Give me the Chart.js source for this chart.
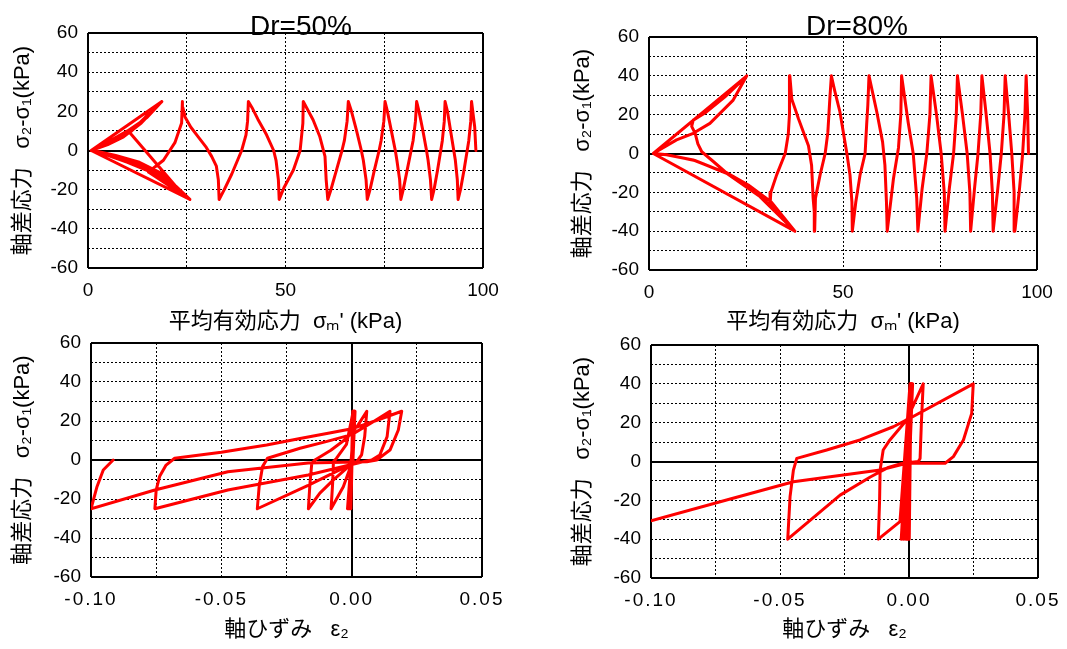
<!DOCTYPE html>
<html>
<head>
<meta charset="utf-8">
<script src="https://cdn.jsdelivr.net/npm/chart.js@4.4.0/dist/chart.umd.min.js"></script>
<style>
body { margin: 0; background: #fff; width: 1067px; height: 649px; overflow: hidden; position: relative; }
canvas { position: absolute; }
</style>
</head>
<body>
<canvas id="c50" width="520" height="335" style="left:0px;top:0px"></canvas>
<canvas id="c80" width="520" height="335" style="left:560px;top:0px"></canvas>
<canvas id="e50" width="540" height="329" style="left:0px;top:320px"></canvas>
<canvas id="e80" width="520" height="329" style="left:560px;top:320px"></canvas>
<script>
// 有効応力経路 Dr=50% [平均有効応力 kPa, 軸差応力 kPa]
const path50 = [
    [98.2, 0], [97.9, 12], [97.1, 25],
    [96.9, 15], [96.4, 5], [96.0, 0], [95.2, -10], [94.3, -20], [93.7, -25],
    [93.5, -15], [93.0, -5], [92.6, 0], [91.8, 10], [91.0, 20], [90.4, 25],
    [90.2, 15], [89.7, 5], [89.3, 0], [88.5, -10], [87.6, -20], [87.0, -25],
    [86.7, -15], [86.1, -5], [85.7, 0], [84.8, 10], [83.8, 20], [83.2, 25],
    [82.9, 15], [82.3, 5], [81.8, 0], [80.8, -10], [79.8, -20], [79.2, -25],
    [78.9, -15], [78.2, -5], [77.8, 0], [76.8, 10], [75.8, 20], [75.2, 25],
    [74.9, 15], [74.2, 5], [73.7, 0], [72.5, -10], [71.4, -20], [70.7, -25],
    [70.4, -15], [69.7, -5], [69.2, 0], [68.0, 10], [66.7, 20], [65.9, 25],
    [65.6, 15], [64.9, 5], [64.3, 0], [62.9, -10], [61.5, -20], [60.7, -25],
    [60.3, -15], [60.0, -3], [58.7, 7], [57.0, 15.6], [54.5, 25],
    [54.4, 14], [53.7, 0], [52.0, -10], [49.6, -19], [48.4, -25],
    [48.2, -15], [47.6, -5], [47.0, 0], [45.2, 8], [43.0, 16], [41.5, 22], [40.6, 25],
    [40.4, 15], [40.0, 8], [38.9, 0], [36.4, -12], [34.5, -20], [33.2, -25],
    [33.0, -15], [32.5, -8], [31.3, -3], [29.8, 2], [27.9, 7], [26.0, 12], [24.6, 17], [24.0, 22], [23.9, 25],
    [23.7, 14], [22.0, 4], [19.1, -5], [15.3, -11], [25.8, -25],
    [20.5, -15.5], [15.0, -9], [10.0, -5], [5.0, -2], [0.8, 0],
    [18.7, 25],
    [14.5, 17], [10.6, 9.1], [24.5, -23.6], [25.8, -25],
    [19.0, -12], [13.0, -6], [7.0, -2.5], [2.5, -0.5], [0.8, 0],
    [18.7, 25],
    [13.5, 14], [9.0, 7], [5.0, 3], [2.0, 0.8], [0.8, 0],
    [25.8, -25],
    [21.0, -17], [16.0, -11], [10.0, -6], [5.0, -2.5], [0.8, 0],
    [5.0, 4], [10.0, 9.5], [15.0, 17], [18.7, 25],
    [0.8, 0],
    [25.8, -25],
    [20.0, -14.5], [14.0, -8], [8.0, -4], [3.0, -1], [0.8, 0],
    [18.7, 25],
    [14.0, 15.5], [10.0, 10], [6.0, 5.5], [2.5, 1.8], [0.8, 0]
]

// 有効応力経路 Dr=80%
const path80 = [
    [97.8, 0], [97.6, 20], [97.2, 40],
    [96.9, 20], [96.3, 0], [95.5, -18], [94.3, -40],
    [94.1, -20], [93.5, 0], [92.7, 20], [91.8, 40],
    [91.5, 20], [90.8, 0], [89.9, -18], [88.7, -40],
    [88.5, -20], [87.9, 0], [86.9, 20], [85.8, 40],
    [85.5, 20], [84.8, 0], [83.9, -18], [82.9, -40],
    [82.7, -20], [82.0, 0], [80.8, 20], [79.5, 40],
    [79.2, 20], [78.5, 0], [77.4, -18], [76.3, -40],
    [76.1, -20], [75.3, 0], [74.1, 20], [72.7, 40],
    [72.4, 20], [71.6, 0], [70.4, -18], [69.3, -40],
    [69.0, -23], [68.1, 0], [66.8, 16], [65.1, 40],
    [64.9, 20], [64.3, 3], [63.0, -13], [61.4, -40],
    [61.2, -25], [60.8, -6], [60.2, 6], [58.7, 21.5], [56.7, 40],
    [56.4, 25], [56.1, 15], [55.7, 0], [54.4, -11], [53.3, -25], [52.4, -40],
    [52.3, -25], [51.8, -11], [51.0, 0], [49.2, 21.5], [47.9, 32], [47.0, 40],
    [46.6, 28], [46.1, 11], [45.4, 0], [44.1, -11], [42.9, -23], [42.7, -40],
    [42.6, -30], [42.3, -23], [41.9, -6], [41.1, 4], [38.5, 18], [36.8, 28], [36.3, 40],
    [36.2, 20], [35.9, 10], [35.1, 0], [32.9, -11], [31.4, -20], [31.2, -26.5], [37.6, -40],
    [28.6, -22.2], [20.0, -10.2], [11.4, -3.3], [4.5, -0.6], [1.1, 0],
    [25.2, 40],
    [19.5, 29], [14.5, 21], [11.4, 17.2], [11.0, 14], [11.9, 10.4], [12.6, 5], [13.6, 0.9],
    [16.5, -4], [19.6, -9.4], [25.6, -16.2], [31.5, -25], [37.6, -40],
    [29.0, -22.5], [20.5, -10.5], [11.8, -3.6], [4.8, -0.7], [1.1, 0],
    [7.1, 7], [11.4, 10.4], [15.7, 15.5], [21.7, 27.5], [25.2, 40],
    [1.1, 0],
    [37.6, -40]
]

// 応力ひずみ Dr=50% [軸ひずみ, 軸差応力 kPa]
const strain50 = [
    [0.0, 0], [0.0004, 25], [-0.0003, -25], [0.0006, 25], [-0.0005, -25], [0.0008, 25], [-0.0008, -25],
    [0.0010, 25], [-0.0010, -25], [0.0012, 25], [-0.0013, -25], [0.0012, 25], [-0.0016, -25], [0.0013, 25],
    [0.0005, 0], [-0.0032, -13.7], [-0.0079, -25],
    [-0.0073, -12], [-0.0070, -0.9], [-0.0058, 0.9], [-0.002, 8], [0.0006, 25],
    [0.0, -2], [-0.0071, -10.3], [-0.0122, -17], [-0.0166, -25],
    [-0.0160, -12], [-0.0153, -1.7], [-0.0141, 0], [-0.0080, 5], [-0.002, 11], [0.002, 17], [0.0058, 25],
    [0.005, 12], [0.0038, 2.6], [0.0019, -1], [-0.006, -6], [-0.0167, -13], [-0.0362, -25],
    [-0.0355, -13.7], [-0.0342, -3.4], [-0.0323, 0.9], [-0.0198, 6], [-0.0098, 9.4], [0.0, 13], [0.0075, 19], [0.0147, 25],
    [0.0136, 12], [0.0108, 2.6], [0.0077, 0], [0.004, -1], [-0.0167, -7.7], [-0.0475, -15.4], [-0.0755, -25],
    [-0.0750, -15.4], [-0.0737, -8.5], [-0.0712, -2.6], [-0.0679, 0.9], [-0.050, 4], [-0.0326, 7.7],
    [-0.0198, 11], [-0.008, 14], [0.0006, 16.2], [0.010, 20.5], [0.0192, 25],
    [0.0179, 15.4], [0.0147, 5.1], [0.0096, 0], [0.0058, -0.9], [-0.0167, -1.5], [-0.0475, -6], [-0.0755, -15.4], [-0.1, -25],
    [-0.0977, -13.7], [-0.0953, -5.1], [-0.0915, 0]
]

// 応力ひずみ Dr=80%
const strain80 = [
    [0.0, 0], [0.0006, 40], [0.0001, -40], [0.0008, 40], [-0.0002, -40], [0.0010, 40], [-0.0006, -40],
    [0.0012, 40], [-0.0010, -40], [0.0014, 40], [-0.0015, -40], [0.0012, 40], [-0.0022, -40], [0.0008, 40],
    [-0.0030, -40], [0.0004, 40],
    [-0.0035, -31], [-0.0119, -40],
    [-0.0114, -20], [-0.0112, -4.4], [-0.0100, 5.9], [-0.0074, 11.1], [-0.0009, 21.4], [0.0055, 40],
    [0.0048, 20], [0.0043, 1.6], [0.0036, 0], [-0.0028, -1], [-0.008, -3], [-0.015, -8], [-0.0267, -17.3], [-0.047, -40],
    [-0.0461, -18.1], [-0.0448, -4.4], [-0.0435, 1.6], [-0.0319, 5.9], [-0.019, 11.1], [-0.0061, 17.9], [-0.0009, 21.4], [0.0249, 40],
    [0.0243, 24.8], [0.0211, 11.1], [0.0172, 2.5], [0.014, -0.9], [-0.0009, -0.9], [-0.0112, -4.4],
    [-0.0448, -10.4], [-0.0707, -19.8], [-0.1, -30.5]
]

const FONT = "'Liberation Sans', Arial, 'Noto Sans CJK JP', sans-serif"
const yTitle = '軸差応力   σ₂-σ₁(kPa)'
const pTitle = "平均有効応力  σₘ' (kPa)"
const eTitle = '軸ひずみ   ε₂'

const panelTitle = {
    id: 'panelTitle',
    afterDraw(chart, args, opts) {
        if (!opts.text) return
        const ctx = chart.ctx
        ctx.save()
        ctx.font = '28px ' + FONT
        ctx.fillStyle = '#000'
        ctx.textAlign = 'center'
        ctx.textBaseline = 'alphabetic'
        ctx.fillText(opts.text, opts.x, opts.y)
        ctx.restore()
    }
}
Chart.register(panelTitle)

// 枠と0の線は実線、その他の目盛線は点線
function isFrame(c) {
    return c.tick && (Math.abs(c.tick.value) < 1e-12 || c.index === 0 || c.index === c.scale.ticks.length - 1)
}

function yLabel(v) {
    return v % 20 === 0 ? String(v) : ''
}

function pLabel(v) {
    return v % 50 === 0 ? String(v) : ''
}

function eLabel(v) {
    const r = Math.round(v / 0.05)
    if (Math.abs(r * 0.05 - v) > 1e-9) return ''
    return Math.abs(v) < 1e-9 ? '0.00' : v.toFixed(2)
}

function panel(id, pts, o) {
    return new Chart(document.getElementById(id), {
        type: 'scatter',
        data: {
            datasets: [{
                data: pts.map(p => ({ x: p[0], y: p[1] })),
                showLine: true,
                borderColor: '#ff0000',
                borderWidth: 3,
                pointRadius: 0,
                tension: 0,
                borderJoinStyle: 'round',
                borderCapStyle: 'round'
            }]
        },
        options: {
            responsive: false,
            animation: false,
            events: [],
            layout: { padding: o.pad },
            plugins: {
                legend: { display: false },
                tooltip: { enabled: false },
                panelTitle: o.title || {}
            },
            scales: {
                x: {
                    type: 'linear',
                    min: o.xMin,
                    max: o.xMax,
                    afterFit: s => {
                        s.height = o.xH
                        if (o.spacing && !s._spaced) {
                            const draw = s.drawLabels
                            s.drawLabels = function (area) {
                                this.ctx.save()
                                this.ctx.letterSpacing = o.spacing
                                draw.call(this, area)
                                this.ctx.restore()
                            }
                            s._spaced = true
                        }
                    },
                    ticks: {
                        stepSize: o.xStep, autoSkip: false, maxRotation: 0, padding: 11,
                        color: '#000', font: { family: FONT, size: 19 }, callback: o.xLabel
                    },
                    grid: { color: '#000', lineWidth: c => isFrame(c) ? 2 : 1, drawTicks: false },
                    border: { display: false, dash: c => isFrame(c) ? [] : [2, 2] },
                    title: {
                        display: true, text: o.xTitle, color: '#000',
                        font: { family: FONT, size: 22 }, padding: { top: 0, bottom: o.xTitlePad }
                    }
                },
                y: {
                    type: 'linear',
                    min: -60,
                    max: 60,
                    afterFit: s => { s.width = o.yW },
                    ticks: {
                        stepSize: 10, autoSkip: false, padding: 10,
                        color: '#000', font: { family: FONT, size: 19 }, callback: yLabel
                    },
                    grid: { color: '#000', lineWidth: c => isFrame(c) ? 2 : 1, drawTicks: false },
                    border: { display: false, dash: c => isFrame(c) ? [] : [2, 2] },
                    title: {
                        display: true, text: yTitle, color: '#000',
                        font: { family: FONT, size: 22 }, padding: { top: 10, bottom: 0 }
                    }
                }
            }
        }
    })
}

panel('c50', path50, {
    pad: { left: 0, top: 33, right: 37, bottom: 0 }, xMin: 0, xMax: 100, xStep: 25, xLabel: pLabel,
    xH: 67, yW: 88, xTitle: pTitle, xTitlePad: 0, title: { text: 'Dr=50%', x: 301, y: 35 }
})
panel('c80', path80, {
    pad: { left: 0, top: 37, right: 43, bottom: 0 }, xMin: 0, xMax: 100, xStep: 25, xLabel: pLabel,
    xH: 65, yW: 89, xTitle: pTitle, xTitlePad: 0, title: { text: 'Dr=80%', x: 297, y: 35 }
})
panel('e50', strain50, {
    pad: { left: 0, top: 23, right: 58, bottom: 0 }, xMin: -0.1, xMax: 0.05, xStep: 0.025, xLabel: eLabel,
    xH: 72, yW: 91, xTitle: eTitle, xTitlePad: 6, spacing: '2px'
})
panel('e80', strain80, {
    pad: { left: 0, top: 25, right: 42, bottom: 0 }, xMin: -0.1, xMax: 0.05, xStep: 0.025, xLabel: eLabel,
    xH: 71, yW: 91, xTitle: eTitle, xTitlePad: 6, spacing: '2px'
})
</script>
</body>
</html>
